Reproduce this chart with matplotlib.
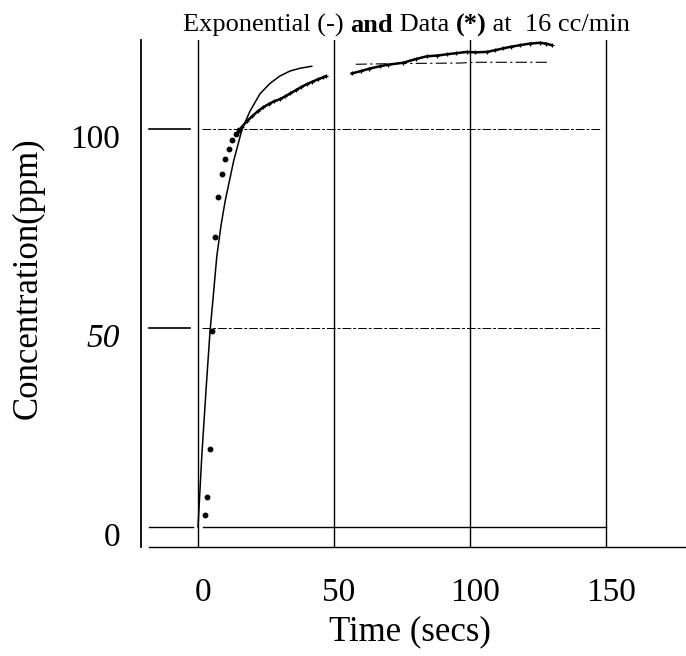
import matplotlib
matplotlib.use("Agg")
import matplotlib.pyplot as plt
import matplotlib.transforms as mtransforms

plt.rcParams['font.family'] = ['Liberation Serif', 'DejaVu Serif']

# exponential fit
exp_t = [0, 1.4, 3.0, 4.4, 5.6, 6.9, 8.5, 10.0, 13.1, 16.2, 19.1, 22.8, 26.5, 30.0, 33.8, 37.5, 41.8]
exp_c = [0, 18, 35, 49, 58, 68, 76, 82, 92, 100, 104.5, 108.9, 111.5, 113.3, 114.6, 115.3, 115.8]
# faint plateau of the exponential
plat_t = [58, 75, 96, 102, 129]
plat_c = [116.3, 116.5, 116.6, 116.8, 116.8]

# first data points (*)
dot_t = [2.6, 3.4, 4.5, 5.3, 6.25, 7.5, 8.7, 9.9, 11.3, 12.6, 14.0, 15.2]
dot_c = [3.0, 7.6, 19.5, 49.2, 72.9, 83.0, 88.7, 92.4, 95.0, 97.2, 98.7, 99.9]

# dense data trace, two pieces
tr1_t = [16, 18, 20, 22, 24, 26, 28, 30, 32, 34, 36, 38, 40, 42, 44, 46, 47]
tr1_c = [100.5, 102, 103.3, 104.5, 105.5, 106.3, 107, 107.5, 108.2, 109, 109.8, 110.6, 111.3, 111.9, 112.5, 113, 113.3]
tr2_t = [56.5, 60, 63, 66.9, 70, 75.5, 80, 84.1, 88, 91.4, 95, 98.8, 102, 106.1, 109, 112.2, 115, 118.4, 122, 125.7, 128, 130]
tr2_c = [114.0, 114.6, 115.2, 115.8, 116.2, 116.7, 117.6, 118.3, 118.5, 118.8, 119.1, 119.4, 119.3, 119.4, 119.8, 120.3, 120.7, 121.1, 121.5, 121.7, 121.5, 121.1]

grid_x = [0, 50, 100, 150]
grid_y = [50, 100]
xticks = [0, 50, 100, 150]
yticks = [0, 50, 100]

fig = plt.figure(figsize=(6.86, 6.56), dpi=100)
W, H = 686, 656
ax = fig.add_axes([141 / W, (H - 547) / H, 545 / W, 507 / H])
ax.set_xlim(-20.96, 179.4)
ax.set_ylim(-5.03, 122.4)

for s in ['top', 'right']:
    ax.spines[s].set_visible(False)
ax.spines['left'].set_linewidth(1.3)
ax.spines['bottom'].set_linewidth(1.0)
ax.spines['bottom'].set_bounds(-18, 179.4)

# vertical grid lines
for gx in grid_x:
    ax.plot([gx, gx], [-5.03, 122.4], color='black', lw=1.0)

# zero line and short ticks
ax.plot([2, 150], [0, 0], color='black', lw=1.0)
ax.plot([-18, -2], [0, 0], color='black', lw=1.0)
for gy in grid_y:
    ax.plot([-18, -3], [gy, gy], color='black', lw=1.2)
    ax.plot([1.5, 148], [gy, gy], color='black', lw=0.7, dashes=(9, 2, 3, 2))

# exponential
ax.plot(exp_t, exp_c, color='black', lw=1.1)
ax.plot(plat_t, plat_c, color='black', lw=0.8, dashes=(10, 3, 2, 3))

# data
ax.plot(dot_t, dot_c, ls='none', marker='o', ms=3.2, color='black')
ax.plot(tr1_t, tr1_c, color='black', lw=1.8, marker='+', ms=3.5, mew=0.9)
ax.plot(tr2_t, tr2_c, color='black', lw=1.8, marker='+', ms=3.5, mew=0.9)

ax.set_xticks(xticks)
ax.set_xticklabels([str(v) for v in xticks])
ax.set_yticks(yticks)
ax.set_yticklabels([str(v) for v in yticks])
ax.tick_params(axis='x', length=0, pad=22, labelsize=24)
ax.tick_params(axis='y', length=0, pad=15, labelsize=24)
ax.get_yticklabels()[1].set_style('italic')

shift_y = mtransforms.ScaledTranslation(0, -7 / 100, fig.dpi_scale_trans)
for lab in ax.get_yticklabels():
    lab.set_transform(lab.get_transform() + shift_y)
shift_x = mtransforms.ScaledTranslation(5 / 100, 0, fig.dpi_scale_trans)
for lab in ax.get_xticklabels():
    lab.set_transform(lab.get_transform() + shift_x)

fig.text(410 / W, 1 - 632 / H, 'Time (secs)', ha='center', va='center', fontsize=25)
fig.text(28 / W, 1 - 278 / H, 'Concentration(ppm)', ha='center', va='center',
         rotation=90, fontsize=25)

# title with mixed weights
title_parts = [('Exponential (-) ', 'normal'), ('and', 'bold'), (' Data ', 'normal'),
               ('(*)', 'bold'), (' at  16 cc/min', 'normal')]
renderer = fig.canvas.get_renderer()
x0 = 183
for txt, wt in title_parts:
    t = fig.text(x0 / W, 1 - 25 / H, txt, ha='left', va='center', fontsize=19, fontweight=wt)
    x0 += t.get_window_extent(renderer).width

fig.savefig('out.png', dpi=100)
